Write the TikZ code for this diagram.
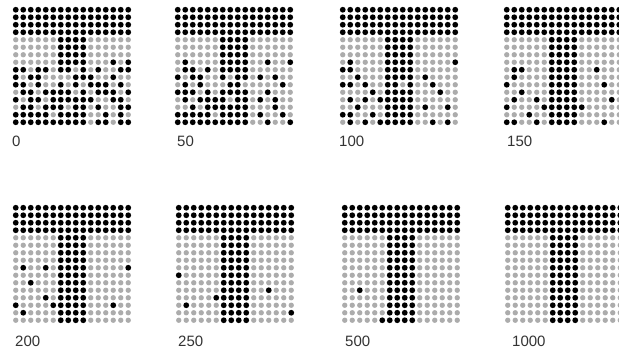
\documentclass[tikz,border=0pt]{standalone}
\usepackage{fontspec}
\setmainfont{Liberation Sans}
\newcount\gcol
\def\gx{0}\def\gy{0}
\def\gparse#1{\ifx#1\relax\let\gnext\relax\else\def\gnext{\gdot#1\gparse}\fi\gnext}
\def\gdot#1{\if1#1\def\gfc{black}\def\grad{2.9pt}\else\def\gfc{gray!65}\def\grad{2.7pt}\fi
  \fill[fill=\gfc] (\gx+\the\gcol*7.5+3.75,\gy+\i*7.5+3.75) circle (\grad);
  \global\advance\gcol by 1 }
\newcommand\dotgrid[3]{\def\gx{#1}\def\gy{#2}%
  \foreach \i in {0,...,3}{\foreach \c in {0,...,15}{\fill[black] (\gx+\c*7.5+3.75,\gy+\i*7.5+3.75) circle (2.9pt);}}%
  \foreach \r [count=\i from 4] in {#3}{\global\gcol=0 \expandafter\gparse\r\relax}}
\tikzset{lab/.style={anchor=base west,inner sep=0pt,text=black!80,font=\fontsize{15pt}{15pt}\selectfont}}
\begin{document}
\begin{tikzpicture}[x=1pt,y=-1pt]
\useasboundingbox (0,0) rectangle (619,358);
\clip (0,0) rectangle (619,358);
% row 1
\dotgrid{12}{6}{0000001111000000,0000001111000000,0000001111000000,0000001111000101,1101101101010011,1011000011100100,1101001010111010,0110111101011101,1011011111100110,0110111011010011,1111101111001010,1111111111011011}
\dotgrid{174}{6}{0000001111000000,0000001111000000,0000001111000000,0100001111001001,0110101111000000,1011001011010100,0101000110000010,1110101111001000,0101111011010100,0010111111000100,1111101111010010,1111111111001001}
\dotgrid{339}{6}{0000001111000000,0000001111000000,0000001111000000,0100001111000001,1100001111000000,0010001111010000,1101001101001000,0000101111000100,0101011111000000,0010001111010010,1100101111000000,0101011111001010}
\dotgrid{503}{6}{0000001111000000,0000001111000000,0000001111000000,0000001111000000,0110001111001000,0100001111000000,1000001111000100,0010001111000000,0100101111000010,1000011111100000,0001001111000000,1100101111000100}
% row 2
\dotgrid{12}{204}{0000001111000000,0000001111000000,0000001111000000,0000001111000000,0100101111000001,0000001111000000,0010001111000000,0000001111000000,0000101111000000,1000011111000100,0100001111000000,0000001111000000}
\dotgrid{175}{204}{0000001111000000,0000001111000000,0000001111000000,0000001111000000,0000001111000000,1000001111000000,0000001111000000,0000001111001000,0000011111000000,0100001111000000,0000001111000001,0000001111000000}
\dotgrid{341}{204}{0000001111000000,0000001111000000,0000001111000000,0000001111000000,0000001111000000,0000001111000000,0000001111000000,0010001111000000,0000001111000000,0000001111000000,0000001111000000,0000011111000000}
\dotgrid{504}{204}{0000001111000000,0000001111000000,0000001111000000,0000001111000000,0000001111000000,0000001111000000,0000001111000000,0000001111000000,0000001111000000,0000001111000000,0000001111000000,0000001111000000}
% labels
\node[lab] (l0) at (12,147) {0};
\node[lab] (l50) at (177,147) {50};
\node[lab] (l100) at (339,147) {100};
\node[lab] (l150) at (507,147) {150};
\node[lab] (l200) at (15,346) {200};
\node[lab] (l250) at (178,346) {250};
\node[lab] (l500) at (345,346) {500};
\node[lab] (l1000) at (512,346) {1000};
\end{tikzpicture}
\end{document}
